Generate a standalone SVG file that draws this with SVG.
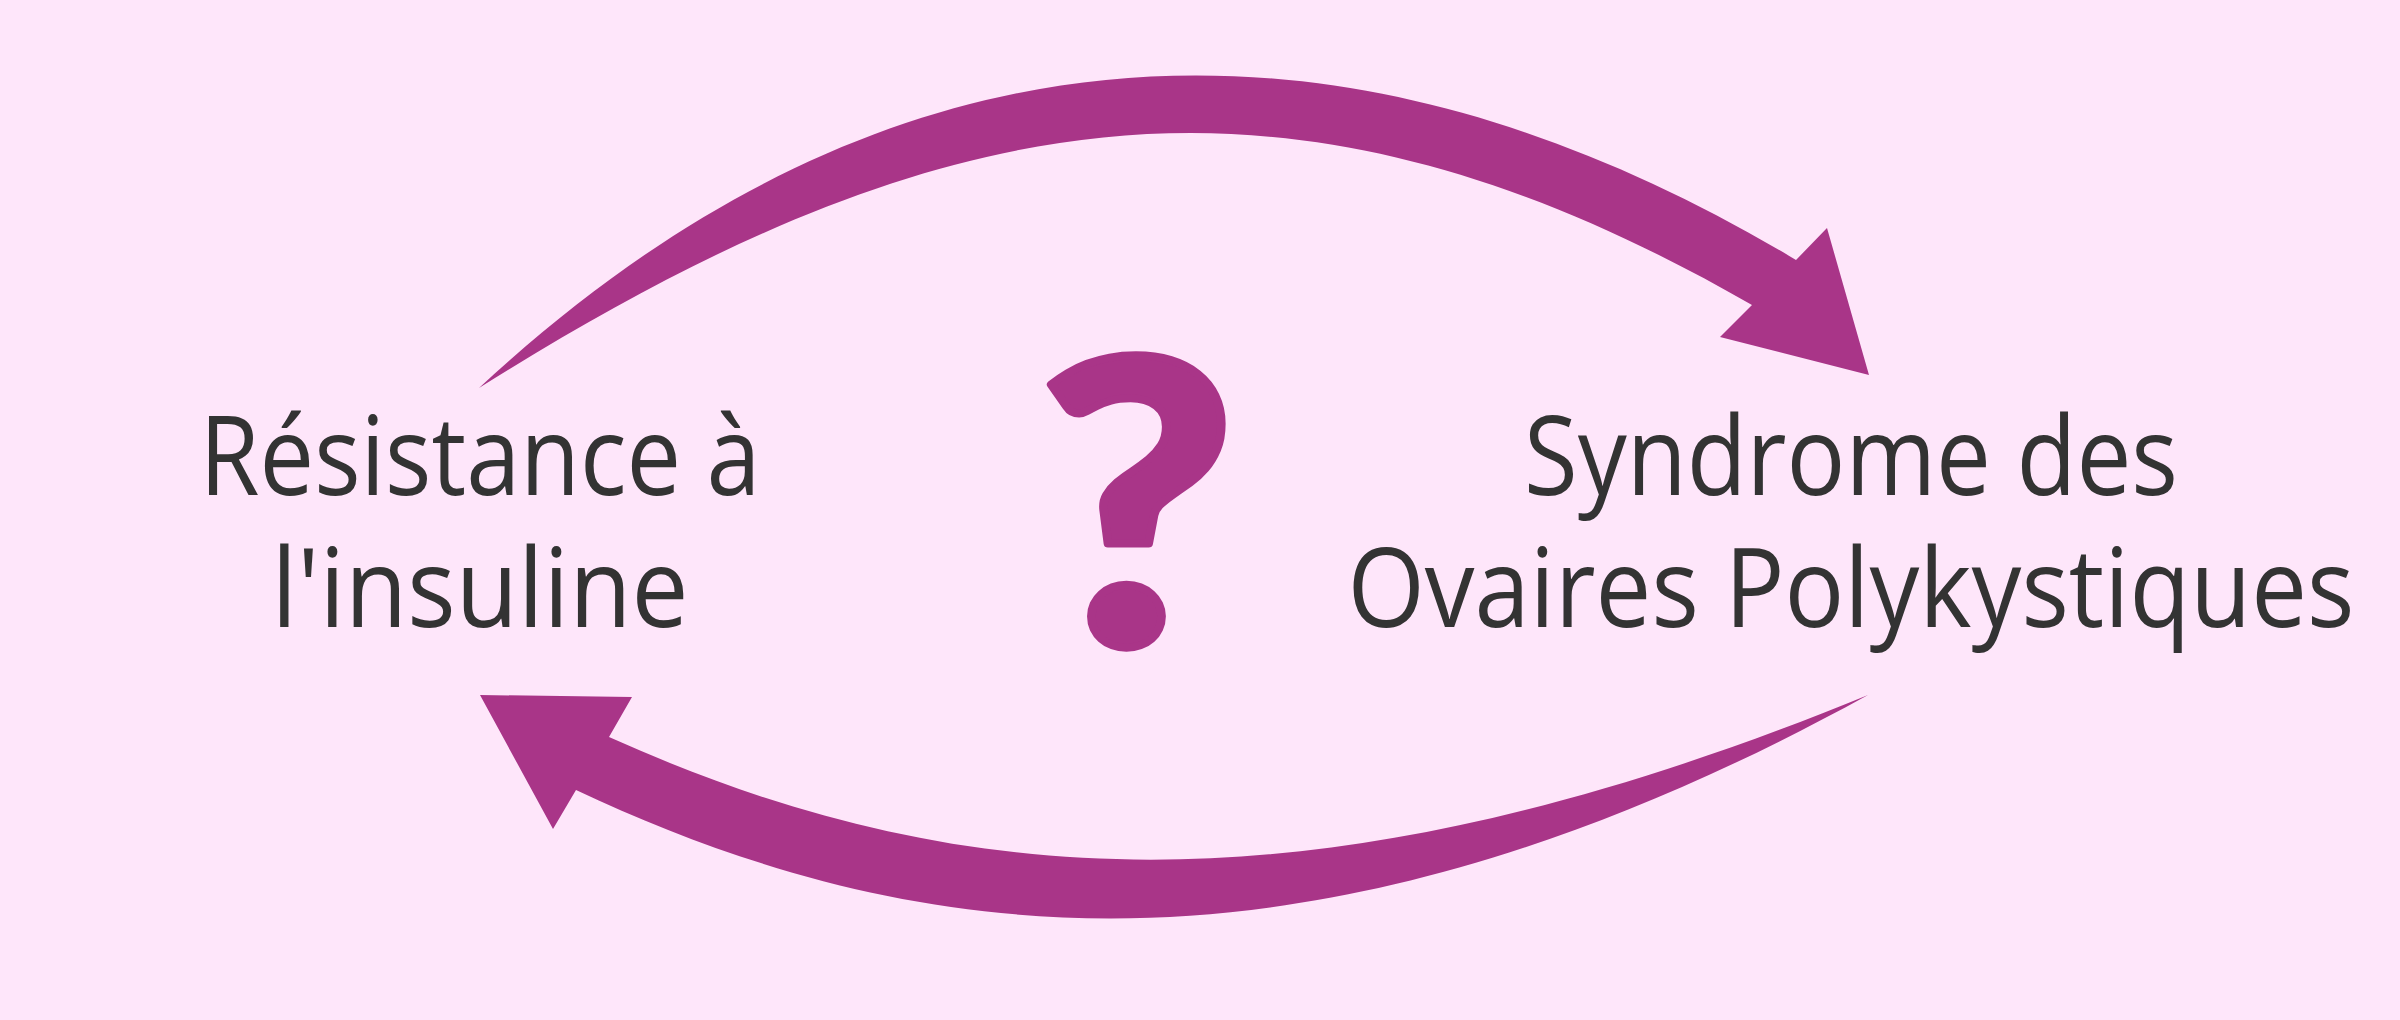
<svg xmlns="http://www.w3.org/2000/svg" width="2400" height="1020" viewBox="0 0 2400 1020">
<style>
.bg{fill:#FEE6FA}
.arrow{fill:#A93588}
.lbl{font-family:"Open Sans","Noto Sans","Liberation Sans",sans-serif;font-size:109px;fill:#333333;text-anchor:middle}
.q{font-family:Lato,"Open Sans","Liberation Sans",sans-serif;font-weight:900;font-size:395px;fill:#A93588;text-anchor:middle}
</style>
<rect class="bg" x="0" y="0" width="2400" height="1020"/>
<g id="connectors">
<path id="arrow-top" class="arrow" d="M479,388 C909,-12 1366,2 1796,260 L1827,228 L1869,375 L1720,337 L1752,305 C1287,37.6 944,95 479,388 Z"/>
<path id="arrow-bottom" class="arrow" d="M609,737 C959,894.5 1318,920.5 1868,695 C1298,1008.5 906,945 576,790 L553,829 L480,695 L632,697 Z"/>
</g>
<g id="node-resistance">
<text class="lbl" x="480" y="495" textLength="561" lengthAdjust="spacingAndGlyphs">Résistance à</text>
<text class="lbl" x="480" y="627" textLength="417" lengthAdjust="spacingAndGlyphs">l'insuline</text>
</g>
<g id="node-question">
<text class="q" x="1137" y="645" textLength="200" lengthAdjust="spacingAndGlyphs" stroke="#A93588" stroke-width="8" stroke-linejoin="round">?</text>
</g>
<g id="node-sopk">
<text class="lbl" x="1851" y="495" textLength="654" lengthAdjust="spacingAndGlyphs">Syndrome des</text>
<text class="lbl" x="1851" y="627" textLength="1007" lengthAdjust="spacingAndGlyphs">Ovaires Polykystiques</text>
</g>
</svg>
